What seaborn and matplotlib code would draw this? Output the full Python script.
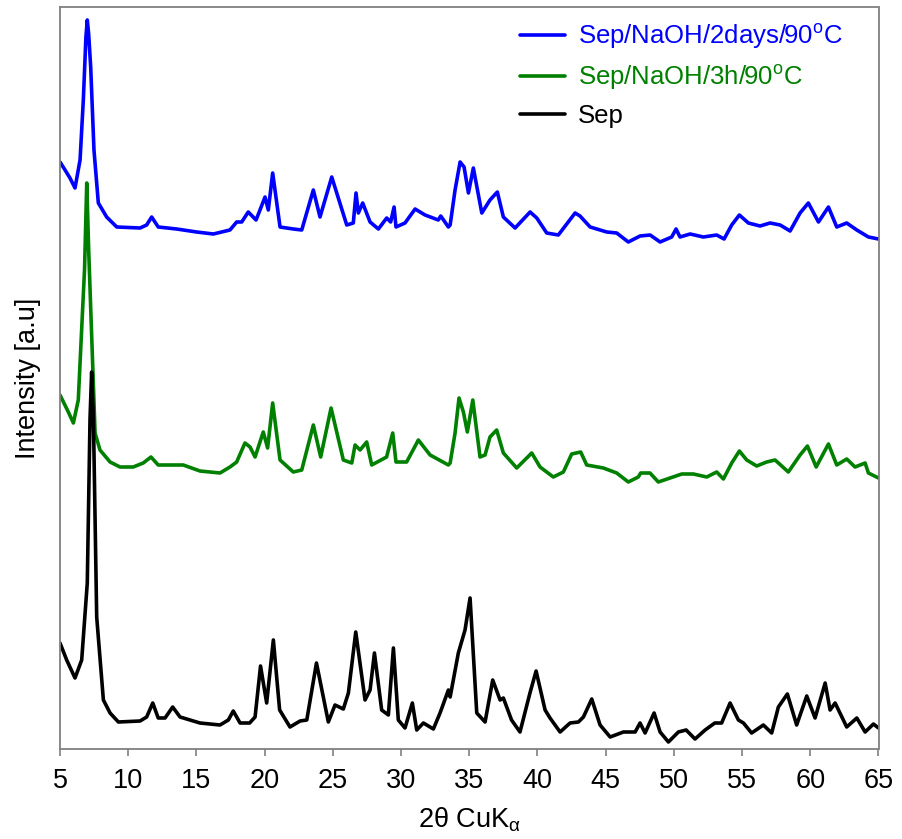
import numpy as np
import pandas as pd
import matplotlib
matplotlib.use("Agg")
import matplotlib.pyplot as plt
import seaborn as sns

# ---- data (2theta in degrees, intensity in arbitrary units, offset as displayed) ----
sep_2theta = [5.0, 5.49, 6.1, 6.59, 7.0, 7.2, 7.32, 7.45, 7.69, 8.18, 8.67, 9.28, 10.87, 11.35, 11.8, 12.2, 12.7,
              13.26, 13.8, 15.26, 16.73, 17.34, 17.7, 18.2, 18.9, 19.3, 19.7, 20.15, 20.64, 21.1, 21.86,
              22.6, 23.09, 23.8, 24.67, 25.16, 25.77, 26.14, 26.68, 27.36, 27.73, 28.05, 28.58, 29.07,
              29.44, 29.8, 30.29, 30.83, 31.15, 31.64, 32.37, 32.86, 33.47, 33.6, 34.2, 34.69, 35.06,
              35.55, 36.16, 36.72, 37.26, 37.5, 38.1, 38.72, 39.45, 39.9, 40.56, 40.92, 41.66, 42.39,
              43.0, 43.37, 43.98, 44.59, 45.33, 46.3, 47.16, 47.52, 47.89, 48.55, 48.99, 49.6, 50.33,
              50.9, 51.55, 52.29, 53.0, 53.5, 54.12, 54.73, 55.1, 55.7, 56.56, 57.17, 57.66, 58.32,
              59.0, 59.74, 60.35, 61.09, 61.45, 61.82, 62.67, 63.41, 64.02, 64.63, 65.0]
sep_int = [106, 89, 71, 89, 166, 330, 377, 330, 132, 49, 36, 27, 28, 32, 46, 31, 31,
           42, 32, 26, 24, 29, 38, 26, 26, 32, 83, 46, 109, 39, 22,
           28, 29, 86, 27, 44, 40, 56, 117, 49, 59, 96, 39, 34,
           101, 29, 21, 46, 19, 26, 20, 36, 59, 52, 96, 119, 151,
           36, 27, 69, 49, 51, 29, 17, 56, 78, 39, 31, 17, 26,
           27, 32, 50, 24, 12, 17, 17, 26, 16, 36, 17, 7, 17,
           19, 10, 19, 26, 26, 46, 29, 26, 16, 24, 16, 42, 55,
           24, 53, 31, 66, 39, 46, 22, 31, 17, 25, 21]

naoh3h_2theta = [5.0, 5.61, 5.98, 6.34, 6.8, 6.96, 7.1, 7.57, 7.93, 8.67, 9.4, 10.37, 11.1, 11.67, 12.2, 14.04,
                 15.26, 16.73, 17.46, 17.95, 18.56, 18.93, 19.3, 19.9, 20.22, 20.59, 21.13, 22.1,
                 22.72, 23.57, 24.11, 24.87, 25.77, 26.39, 26.63, 27.0, 27.48, 27.85, 28.94, 29.39,
                 29.63, 30.41, 31.27, 32.13, 33.47, 33.6, 33.96, 34.25, 34.57, 34.86, 35.26, 35.79,
                 36.16, 36.52, 37.01, 37.5, 38.48, 39.58, 40.19, 41.16, 41.9, 42.51, 43.17, 43.61,
                 44.83, 45.81, 46.66, 47.39, 47.57, 48.25, 48.86, 49.72, 50.58, 51.43, 52.41, 53.14,
                 53.63, 54.24, 54.8, 55.34, 56.07, 56.8, 57.42, 58.39, 59.25, 59.79, 60.43, 61.33,
                 61.94, 62.67, 63.28, 64.02, 64.26, 65.0]
naoh3h_int = [354, 337, 326, 349, 480, 566, 500, 316, 299, 287, 282, 282, 286, 292, 284, 284,
              278, 276, 282, 287, 306, 302, 292, 317, 301, 346, 289, 277,
              279, 324, 292, 341, 289, 286, 304, 299, 307, 284, 292, 316,
              287, 287, 309, 294, 284, 286, 316, 351, 337, 317, 349, 292,
              294, 312, 319, 296, 281, 296, 282, 272, 277, 295, 297, 284,
              281, 276, 267, 272, 276, 276, 267, 271, 275, 275, 272, 277,
              270, 286, 298, 289, 283, 287, 289, 277, 294, 303, 282, 305,
              284, 290, 282, 286, 276, 271]

naoh2d_2theta = [5.0, 5.37, 5.73, 6.1, 6.47, 6.71, 6.9, 7.0, 7.1, 7.25, 7.49, 7.81, 8.42, 9.16, 10.87, 11.35,
                 11.72, 12.2, 13.55, 15.02, 16.24, 17.46, 17.95, 18.32, 18.8, 19.37, 19.66, 20.03,
                 20.27, 20.59, 21.13, 22.1, 22.72, 23.57, 24.06, 24.92, 26.02, 26.5, 26.7, 26.87,
                 27.19, 27.73, 28.34, 28.95, 29.24, 29.49, 29.63, 30.29, 31.03, 31.76, 32.73, 32.91,
                 33.47, 33.6, 33.96, 34.33, 34.62, 34.94, 35.3, 35.92, 36.52, 37.06, 37.5, 38.36,
                 39.46, 39.95, 40.68, 41.53, 42.76, 43.12, 43.86, 45.08, 45.81, 46.66, 47.52, 48.26,
                 48.99, 49.84, 50.16, 50.45, 51.19, 52.16, 53.14, 53.68, 54.24, 54.8, 55.46, 56.32,
                 57.05, 57.79, 58.52, 59.25, 59.86, 60.6, 61.33, 61.94, 62.67, 63.41, 64.26, 65.0]
naoh2d_int = [587, 579, 571, 561, 589, 649, 712, 729, 715, 682, 599, 546, 532, 522, 521, 524,
              532, 522, 520, 517, 515, 519, 527, 527, 537, 529, 539, 552,
              539, 576, 522, 520, 519, 559, 532, 572, 524, 526, 556, 536,
              546, 527, 520, 531, 527, 542, 522, 526, 540, 534, 529, 533,
              522, 524, 559, 587, 582, 556, 581, 536, 549, 557, 532, 521,
              537, 531, 516, 514, 536, 533, 522, 517, 516, 507, 513, 514,
              507, 512, 520, 512, 515, 512, 514, 510, 524, 534, 526, 523,
              526, 524, 518, 536, 546, 527, 542, 522, 526, 519, 512, 510]

labels = ["Sep/NaOH/2days/90$^{\\mathregular{o}}$C", "Sep/NaOH/3h/90$^{\\mathregular{o}}$C", "Sep"]
colors = ["#0000FF", "#008000", "#000000"]
x_ticks = [5, 10, 15, 20, 25, 30, 35, 40, 45, 50, 55, 60, 65]

df = pd.concat([
    pd.DataFrame({"two_theta": naoh2d_2theta, "intensity": naoh2d_int, "sample": labels[0]}),
    pd.DataFrame({"two_theta": naoh3h_2theta, "intensity": naoh3h_int, "sample": labels[1]}),
    pd.DataFrame({"two_theta": sep_2theta, "intensity": sep_int, "sample": labels[2]}),
], ignore_index=True)

sns.set_style("white")
plt.rcParams["font.family"] = ["Liberation Sans", "DejaVu Sans"]
plt.rcParams["text.color"] = "black"
plt.rcParams["axes.labelcolor"] = "black"
plt.rcParams["xtick.color"] = "black"

fig = plt.figure(figsize=(9.02, 8.39), dpi=100)
ax = fig.add_axes([60 / 902, 1 - 749 / 839, 818.5 / 902, 742 / 839])

sns.lineplot(data=df, x="two_theta", y="intensity", hue="sample", hue_order=labels,
             palette=dict(zip(labels, colors)), sort=False, estimator=None,
             linewidth=2.6, ax=ax)

ax.set_xlim(5, 65)
ax.set_ylim(0, 742)
ax.set_xticks(x_ticks)
ax.set_xticklabels([str(t) for t in x_ticks])
ax.set_yticks([])
ax.tick_params(axis="x", direction="out", length=5, width=1.2, color="#808080",
               labelcolor="black", labelsize=19.5, pad=9, bottom=True)
for s in ax.spines.values():
    s.set_color("#808080")
    s.set_linewidth(1.3)

ax.set_xlabel("2θ CuK$_{\\mathregular{α}}$", fontsize=19.5, labelpad=8, color="black")
ax.set_ylabel("Intensity [a.u]", fontsize=19.5, labelpad=14, color="black")

handles, labs = ax.get_legend_handles_labels()
ax.legend(handles, labs, loc="upper right", bbox_to_anchor=(0.985, 1.012), frameon=False,
          fontsize=18.5, handlelength=1.75, handletextpad=0.5, labelspacing=0.45,
          labelcolor="linecolor")

fig.savefig("out.png", dpi=100)
